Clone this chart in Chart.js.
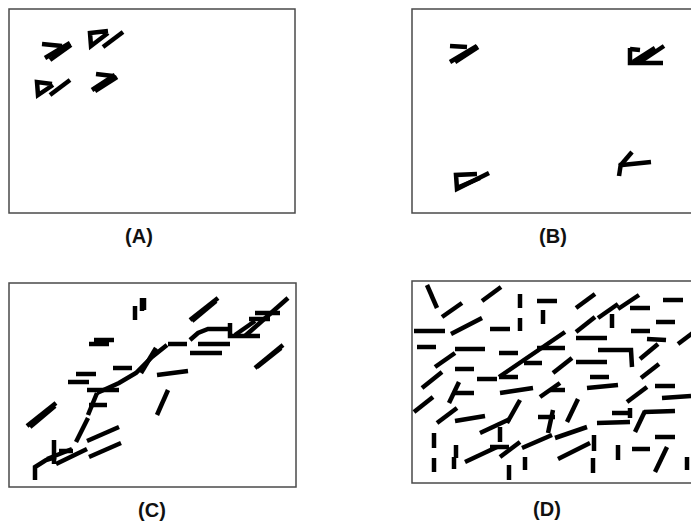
<!DOCTYPE html>
<html><head><meta charset="utf-8">
<script src="https://cdn.jsdelivr.net/npm/chart.js@4.4.1/dist/chart.umd.min.js"></script>
<style>
html,body{margin:0;padding:0;background:#fff;width:691px;height:526px;overflow:hidden;position:relative}
canvas{position:absolute}
.lbl{position:absolute;width:100px;text-align:center;font:bold 20px "Liberation Sans",Arial,sans-serif;line-height:24px;color:#111}
</style></head><body>
<canvas id="cA"></canvas><canvas id="cB"></canvas><canvas id="cC"></canvas><canvas id="cD"></canvas>
<div class="lbl" id="lA"></div><div class="lbl" id="lB"></div><div class="lbl" id="lC"></div><div class="lbl" id="lD"></div>
<script>
// Panel labels
const panelLabels = ['(A)', '(B)', '(C)', '(D)'];

// Segment polylines per panel: [x1,y1,x2,y2,...] in panel units (y grows downward)
const segmentsA = [
  [33,35, 53,37], [36,49, 61,34], [41,51, 62,36],
  [99,22, 81,24, 82,37, 99,24], [94,38, 114,23],
  [43,75, 28,73, 29,86, 44,76], [41,86, 61,71],
  [87,65, 104,67], [83,81, 106,66], [86,82, 108,68]
];
const segmentsB = [
  [38,37, 55,38], [38,53, 65,37], [43,53, 66,38],
  [218,39, 218,54, 251,54], [218,40, 228,41], [221,53, 243,39], [228,53, 252,37],
  [65,165, 44,166, 45,180, 77,164], [47,178, 68,169],
  [207,167, 209,154], [208,157, 220,143], [210,156, 239,153]
];
const segmentsC = [
  [126,23, 126,37], [133,15, 133,28], [135,15, 135,27],
  [80,61, 100,61], [85,57, 105,57],
  [67,91, 87,91], [59,99, 80,99], [104,85, 123,85],
  [26,197, 26,184, 37,177, 47,174],
  [45,157, 45,181], [38,176, 63,166], [47,181, 78,166], [50,168, 64,168],
  [67,159, 79,135], [79,132, 88,110],
  [78,107, 110,107], [80,122, 98,122],
  [88,110, 110,100, 127,90, 143,74, 158,62],
  [132,90, 147,65],
  [18,143, 47,120], [21,144, 46,123],
  [78,158, 110,144], [80,174, 112,160],
  [159,61, 178,61], [181,57, 189,50, 199,46, 221,46],
  [221,40, 221,53, 251,53], [226,52, 246,38], [236,53, 279,15],
  [246,30, 271,30], [240,36, 261,36],
  [181,37, 209,15], [183,38, 207,18],
  [189,61, 221,61], [181,70, 213,70],
  [148,92, 179,88], [148,132, 159,107],
  [246,85, 274,62], [248,84, 272,65]
];
const segmentsD = [
  [15,4, 25,27], [30,36, 50,22], [70,20, 89,6], [108,13, 108,27], [125,20, 145,20],
  [131,29, 131,43], [108,37, 108,50], [2,50, 33,50], [39,53, 70,37], [78,48, 98,48],
  [164,27, 183,13], [186,37, 206,23], [206,28, 227,14], [218,27, 238,27], [251,19, 271,19],
  [200,33, 200,47], [164,51, 183,36], [244,41, 263,41], [219,50, 238,50], [266,63, 286,48],
  [5,66, 24,66], [43,68, 73,68], [87,72, 106,72], [23,86, 43,72], [43,88, 62,88],
  [112,82, 130,82], [87,96, 153,51], [87,96, 106,96], [125,67, 153,67], [65,98, 85,98],
  [164,57, 195,57], [235,58, 254,59], [186,69, 219,69, 220,86], [228,78, 246,63],
  [141,92, 160,77], [164,81, 195,81], [178,96, 197,96], [229,97, 247,83],
  [10,107, 30,91], [2,131, 21,116], [37,122, 47,101], [43,112, 62,112],
  [88,112, 121,107], [128,116, 148,102], [138,109, 153,109], [175,107, 206,104],
  [243,105, 263,105], [215,121, 235,106], [250,117, 279,115],
  [25,142, 45,127], [43,140, 73,135], [95,142, 108,119], [126,136, 143,136], [141,129, 136,152],
  [155,141, 166,118], [200,132, 218,132], [218,127, 218,137], [185,142, 218,141],
  [223,151, 233,130], [232,131, 263,130],
  [68,152, 98,138], [88,146, 88,161], [22,152, 22,167], [22,177, 22,191],
  [44,164, 44,177], [42,176, 42,188], [53,181, 85,166], [78,166, 97,166],
  [88,176, 108,161], [110,167, 140,154], [113,176, 113,189], [97,184, 97,199],
  [143,157, 175,146], [146,178, 178,162], [182,154, 182,170], [181,177, 181,192],
  [206,164, 206,179], [220,168, 238,168], [243,156, 263,156], [255,166, 243,191], [275,176, 275,189]
];

const PAD = 4;
const panels = [
  {c:'cA', l:'lA', segs:segmentsA, left:9,   top:9,   w:286, h:204, lx:139, ly:236},
  {c:'cB', l:'lB', segs:segmentsB, left:412, top:9,   w:286, h:204, lx:553, ly:236},
  {c:'cC', l:'lC', segs:segmentsC, left:9,   top:283, w:287, h:204, lx:152, ly:510},
  {c:'cD', l:'lD', segs:segmentsD, left:412, top:281, w:286, h:202, lx:547, ly:509}
];

const framePlugin = {
  id: 'frame',
  beforeDatasetsDraw(chart) {
    const a = chart.chartArea, ctx = chart.ctx;
    ctx.save();
    ctx.strokeStyle = '#4a4a4a';
    ctx.lineWidth = 1.5;
    ctx.strokeRect(a.left, a.top, a.right - a.left, a.bottom - a.top);
    ctx.restore();
  }
};

function toPts(flat) {
  const out = [];
  for (let i = 0; i < flat.length; i += 2) out.push({x: flat[i], y: flat[i + 1]});
  return out;
}

panels.forEach((p, idx) => {
  const cv = document.getElementById(p.c);
  cv.width = p.w + 2 * PAD; cv.height = p.h + 2 * PAD;
  cv.style.left = (p.left - PAD) + 'px'; cv.style.top = (p.top - PAD) + 'px';
  cv.style.width = cv.width + 'px'; cv.style.height = cv.height + 'px';
  const lb = document.getElementById(p.l);
  lb.textContent = panelLabels[idx];
  lb.style.left = (p.lx - 50) + 'px'; lb.style.top = (p.ly - 12) + 'px';
  new Chart(cv.getContext('2d'), {
    type: 'scatter',
    data: {datasets: p.segs.map(s => ({
      data: toPts(s), showLine: true, borderColor: '#000', backgroundColor: '#000',
      borderWidth: 4.5, pointRadius: 0, pointHoverRadius: 0, tension: 0,
      borderCapStyle: 'butt', borderJoinStyle: 'miter', fill: false
    }))},
    options: {
      responsive: false, animation: false, devicePixelRatio: 1,
      layout: {padding: PAD},
      events: [],
      plugins: {legend: {display: false}, tooltip: {enabled: false}, title: {display: false}},
      scales: {
        x: {type: 'linear', display: false, min: 0, max: p.w},
        y: {type: 'linear', display: false, min: 0, max: p.h, reverse: true}
      }
    },
    plugins: [framePlugin]
  });
});
</script>
</body></html>
